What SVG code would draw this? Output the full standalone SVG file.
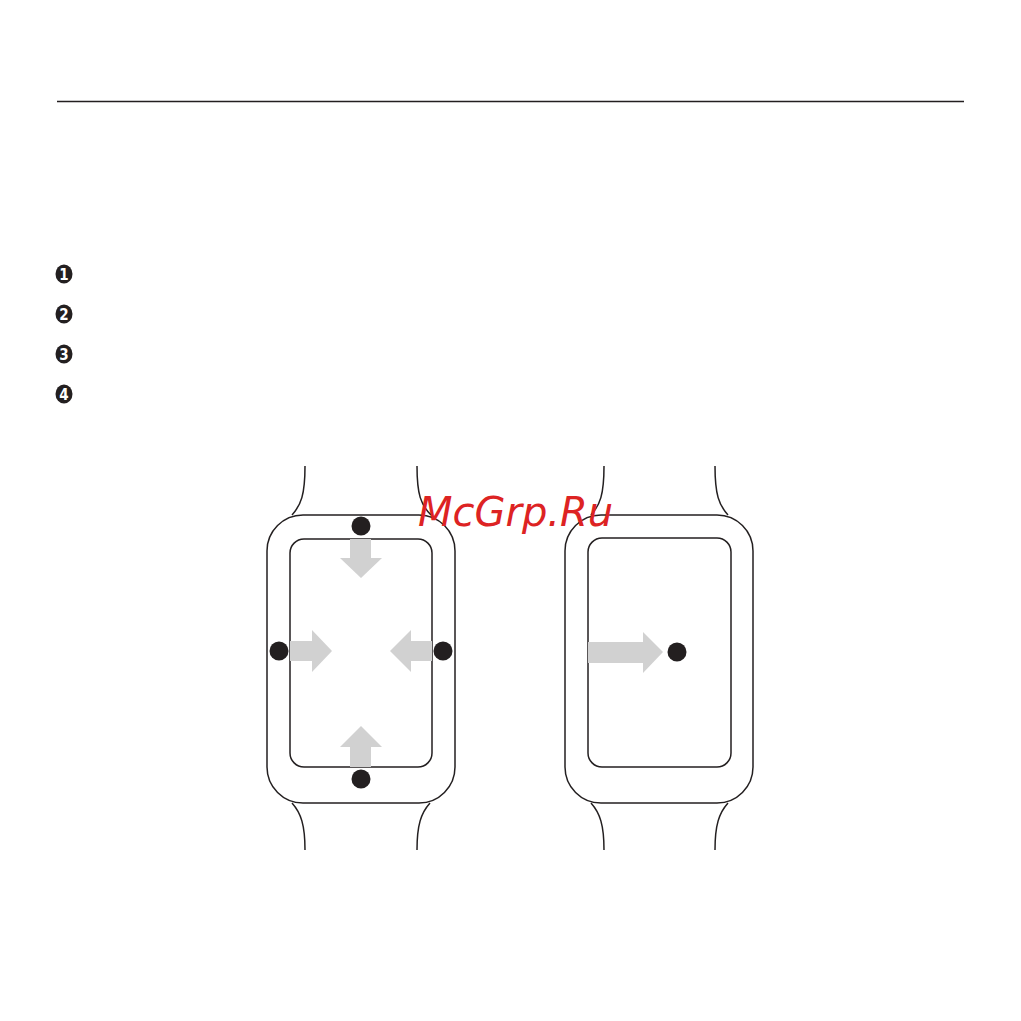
<svg xmlns="http://www.w3.org/2000/svg" width="1021" height="1021" viewBox="0 0 1021 1021">
<style>
.ln{fill:none;stroke:#231f20;stroke-width:1.5}
.dot{fill:#231f20}
.arr{fill:#d1d1d1}
.num{font-family:"DejaVu Sans Condensed","DejaVu Sans",sans-serif;font-size:15px;font-weight:bold;fill:#fff;text-anchor:middle}
.wm{font-family:"DejaVu Sans",sans-serif;font-style:oblique;font-size:40px;fill:#dd2323}
</style>
<rect width="1021" height="1021" fill="#fff"/>
<line x1="57" y1="101.5" x2="964" y2="101.5" stroke="#231f20" stroke-width="1.3"/>
<g id="steps">
<ellipse cx="64" cy="274" rx="8.5" ry="9.5" class="dot"/><text x="64" y="279.5" class="num">1</text>
<ellipse cx="64" cy="314" rx="8.5" ry="9.5" class="dot"/><text x="64" y="319.5" class="num">2</text>
<ellipse cx="64" cy="354" rx="8.5" ry="9.5" class="dot"/><text x="64" y="359.5" class="num">3</text>
<ellipse cx="64" cy="394" rx="8.5" ry="9.5" class="dot"/><text x="64" y="399.5" class="num">4</text>
</g>
<g id="watch-left">
<path class="ln" d="M305 466 C305 495 301 505 292 515 M417 466 C417 495 421 505 431 515"/>
<path class="ln" d="M292 803 C301 813 305 825 305 850 M430 803 C421 813 417 825 417 850"/>
<rect x="267" y="515" width="188" height="288" rx="36" ry="36" class="ln"/>
<rect x="290" y="539" width="142" height="228" rx="14" ry="14" class="ln"/>
<polygon class="arr" points="350,539 371,539 371,558 382,558 361,578 340,558 350,558"/>
<polygon class="arr" points="290,641 312,641 312,630 332,651 312,672 312,661 290,661"/>
<polygon class="arr" points="432,641 411,641 411,630 390,651 411,672 411,661 432,661"/>
<polygon class="arr" points="350,767 371,767 371,747 382,747 361,726 340,747 350,747"/>
<circle cx="361" cy="526" r="9.5" class="dot"/>
<circle cx="279" cy="651" r="9.5" class="dot"/>
<circle cx="443" cy="651" r="9.5" class="dot"/>
<circle cx="361" cy="779" r="9.5" class="dot"/>
</g>
<g id="watch-right">
<path class="ln" d="M604 466 C604 495 600 505 591 515 M715 466 C715 495 719 505 728 515"/>
<path class="ln" d="M591 803 C600 813 604 825 604 850 M728 803 C719 813 715 825 715 850"/>
<rect x="565" y="515" width="188" height="288" rx="36" ry="36" class="ln"/>
<rect x="588" y="538" width="143" height="229" rx="14" ry="14" class="ln"/>
<polygon class="arr" points="588,642 643,642 643,632 663,652 643,673 643,663 588,663"/>
<circle cx="677" cy="652" r="9.5" class="dot"/>
</g>
<text x="418" y="526" class="wm">McGrp.Ru</text>
</svg>
